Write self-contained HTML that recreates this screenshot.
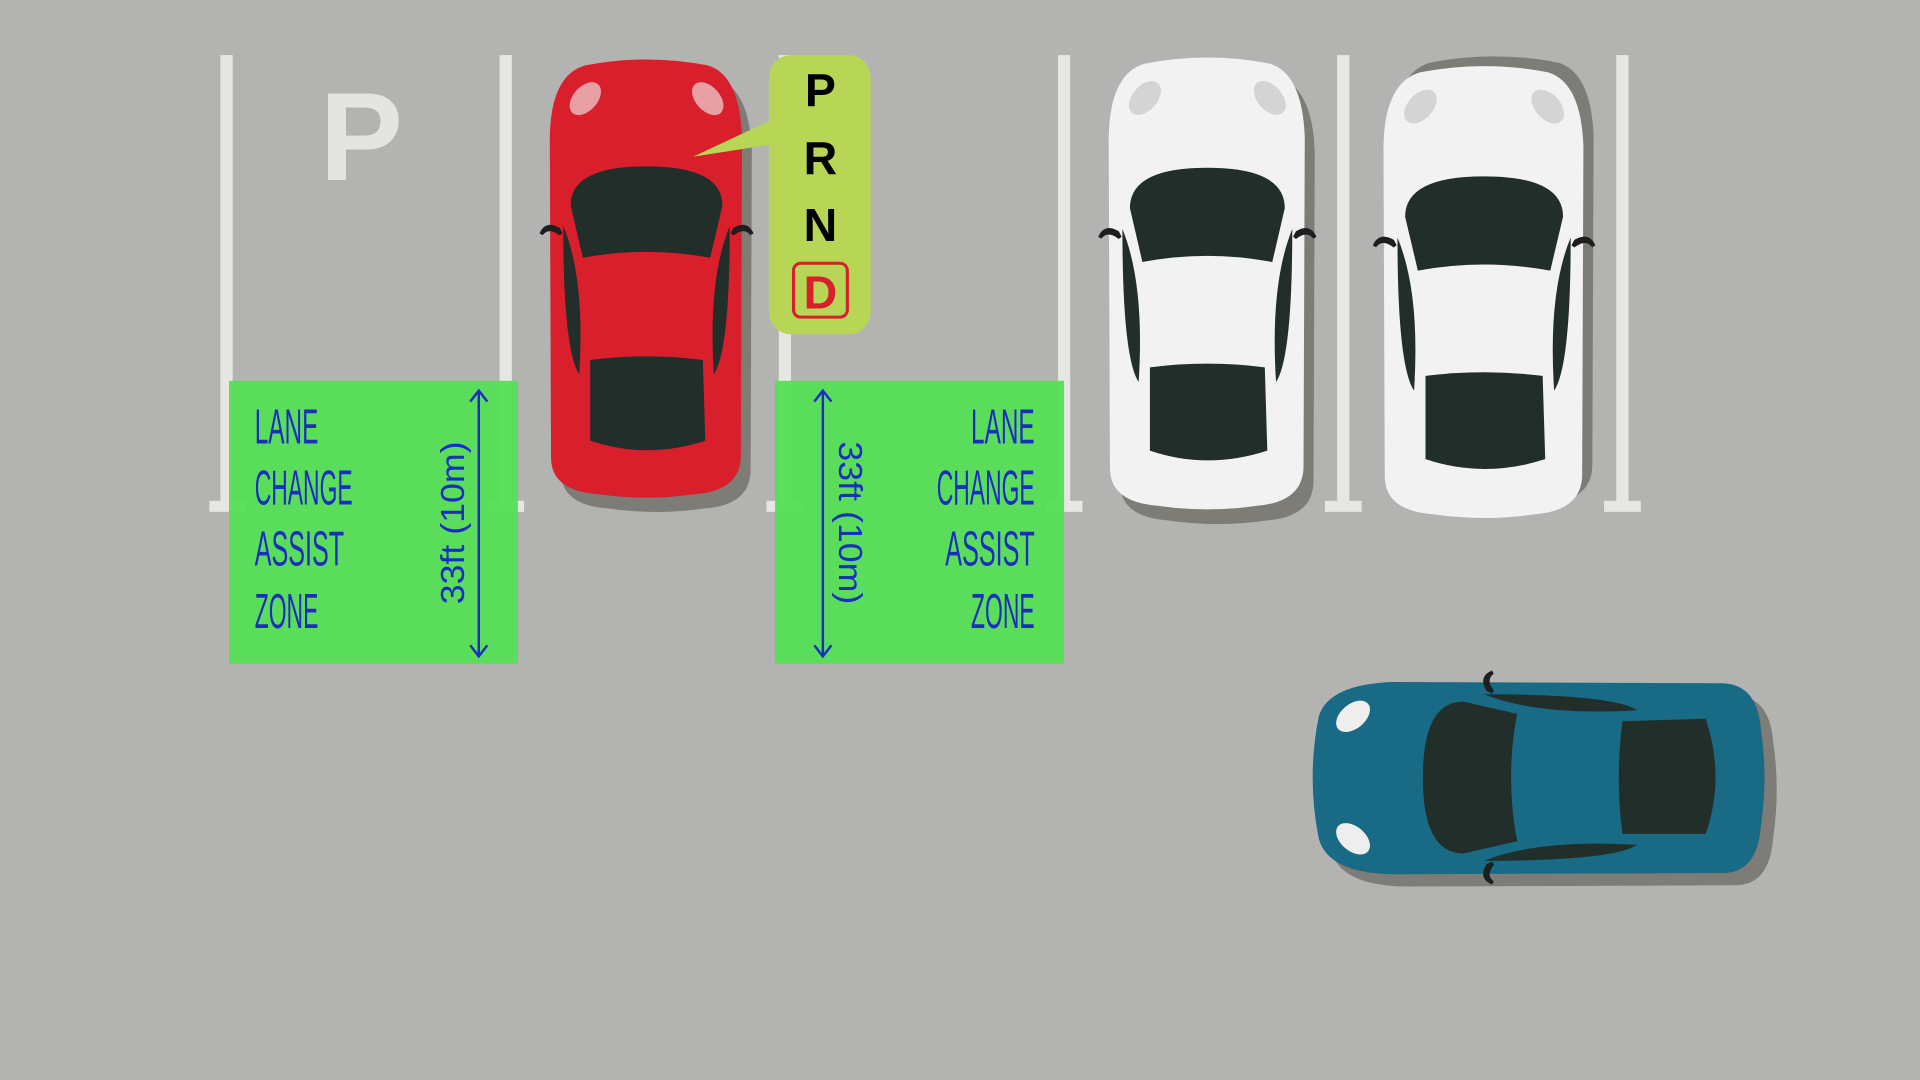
<!DOCTYPE html>
<html><head><meta charset="utf-8"><style>html,body{margin:0;padding:0;background:#b3b4b1}svg{display:block}</style></head>
<body>
<svg width="1920" height="1080" viewBox="0 0 1568 882" xmlns="http://www.w3.org/2000/svg">
<defs>
<path id="body" d="M -50,-180 Q 0,-190 50,-180 Q 76,-172 78,-120 L 77,150 Q 76,178 40,181 Q 0,187 -40,181 Q -78,178 -78,150 L -79,-120 Q -78,-172 -50,-180 Z"/>
<g id="details">
<path d="M -62,-62 Q -62,-95 0,-95 Q 62,-95 62,-62 L 52,-18 Q 0,-28 -52,-18 Z" fill="#222e29"/>
<path d="M -46,68 Q 0,62 46,68 L 48,136 Q 0,152 -46,136 Z" fill="#222e29"/>
<path d="M -68,-45 Q -50,0 -55,80 Q -68,60 -68,-45 Z" fill="#222e29"/>
<path d="M 68,-45 Q 50,0 55,80 Q 68,60 68,-45 Z" fill="#222e29"/>
<path d="M -72,-42 Q -82,-48 -86,-38 Q -80,-46 -70,-38 Z" fill="#1e1e1e" stroke="#1e1e1e" stroke-width="3"/>
<path d="M 72,-42 Q 82,-48 86,-38 Q 80,-46 70,-38 Z" fill="#1e1e1e" stroke="#1e1e1e" stroke-width="3"/>
</g>
</defs>
<rect width="1568" height="882" fill="#b3b4b1"/>
<g fill="#e6e6e4">
<rect x="180" y="45" width="10" height="370"/><rect x="171" y="409" width="30" height="9"/>
<rect x="408" y="45" width="10" height="370"/><rect x="398" y="409" width="30" height="9"/>
<rect x="636" y="45" width="10" height="370"/><rect x="626" y="409" width="30" height="9"/>
<rect x="864" y="45" width="10" height="370"/><rect x="854" y="409" width="30" height="9"/>
<rect x="1092" y="45" width="10" height="370"/><rect x="1082" y="409" width="30" height="9"/>
<rect x="1320" y="45" width="10" height="370"/><rect x="1310" y="409" width="30" height="9"/>
</g>
<text x="295" y="147" font-family="Liberation Sans" font-weight="bold" font-size="102" fill="#e4e4e2" text-anchor="middle">P</text>

<g transform="translate(528,228) scale(1,0.97)">
<use href="#body" transform="translate(8,12)" fill="#7d7c77"/>
<use href="#body" fill="#d91f2c"/>
<use href="#details"/>
<ellipse cx="-50" cy="-152" rx="16" ry="10" transform="rotate(-50 -50 -152)" fill="#e9a0a4"/>
<ellipse cx="50" cy="-152" rx="16" ry="10" transform="rotate(50 50 -152)" fill="#e9a0a4"/>
</g>
<g transform="translate(986,232) scale(1.02,1)">
<use href="#body" transform="translate(8,12)" fill="#7d7c77"/>
<use href="#body" fill="#f2f2f2"/>
<use href="#details"/>
<ellipse cx="-50" cy="-152" rx="16" ry="10" transform="rotate(-50 -50 -152)" fill="#d4d4d4"/>
<ellipse cx="50" cy="-152" rx="16" ry="10" transform="rotate(50 50 -152)" fill="#d4d4d4"/>
</g>
<g transform="translate(1212,239) scale(1.04,1)">
<use href="#body" transform="translate(8,-8)" fill="#7d7c77"/>
<use href="#body" fill="#f2f2f2"/>
<use href="#details"/>
<ellipse cx="-50" cy="-152" rx="16" ry="10" transform="rotate(-50 -50 -152)" fill="#d4d4d4"/>
<ellipse cx="50" cy="-152" rx="16" ry="10" transform="rotate(50 50 -152)" fill="#d4d4d4"/>
</g>
<g transform="translate(1257,635) rotate(-90)">
<use href="#body" transform="translate(-10,10)" fill="#7d7c77"/>
<use href="#body" fill="#186a85"/>
<use href="#details"/>
<ellipse cx="-50" cy="-152" rx="16" ry="10" transform="rotate(-50 -50 -152)" fill="#eeeeee"/>
<ellipse cx="50" cy="-152" rx="16" ry="10" transform="rotate(50 50 -152)" fill="#eeeeee"/>
</g>

<path d="M 566,128 L 630,98 L 630,118 Z" fill="#b8d656"/>
<rect x="628" y="45" width="83" height="228" rx="18" fill="#b8d656"/>
<g font-family="Liberation Sans" font-weight="bold" font-size="38" text-anchor="middle">
<text x="670" y="87" fill="#000">P</text>
<text x="670" y="142" fill="#000">R</text>
<text x="670" y="197" fill="#000">N</text>
<rect x="648" y="215" width="44" height="44" rx="6" fill="none" stroke="#d81f2c" stroke-width="2.5"/>
<text x="670" y="252" fill="#d81f2c">D</text>
</g>

<rect x="187" y="311" width="236" height="231" fill="#55df55" opacity="0.95"/>
<rect x="633" y="311" width="236" height="231" fill="#55df55" opacity="0.95"/>
<g font-family="Liberation Sans Narrow, Liberation Sans" font-size="40" fill="#1a2fc0">
<text x="208" y="362" textLength="52" lengthAdjust="spacingAndGlyphs">LANE</text>
<text x="208" y="412" textLength="80" lengthAdjust="spacingAndGlyphs">CHANGE</text>
<text x="208" y="462" textLength="73" lengthAdjust="spacingAndGlyphs">ASSIST</text>
<text x="208" y="513" textLength="52" lengthAdjust="spacingAndGlyphs">ZONE</text>
<text x="845" y="362" textLength="52" lengthAdjust="spacingAndGlyphs" text-anchor="end">LANE</text>
<text x="845" y="412" textLength="80" lengthAdjust="spacingAndGlyphs" text-anchor="end">CHANGE</text>
<text x="845" y="462" textLength="73" lengthAdjust="spacingAndGlyphs" text-anchor="end">ASSIST</text>
<text x="845" y="513" textLength="52" lengthAdjust="spacingAndGlyphs" text-anchor="end">ZONE</text>
</g>
<g stroke="#1a2fc0" stroke-width="2" fill="none">
<line x1="391" y1="319" x2="391" y2="536"/>
<polyline points="384,328 391,319 398,328"/><polyline points="384,527 391,536 398,527"/>
<line x1="672" y1="319" x2="672" y2="536"/>
<polyline points="665,328 672,319 679,328"/><polyline points="665,527 672,536 679,527"/>
</g>
<g font-family="Liberation Sans" font-size="27" fill="#1a2fc0" text-anchor="middle">
<text transform="translate(379,427) rotate(-90)" textLength="133" lengthAdjust="spacingAndGlyphs">33ft (10m)</text>
<text transform="translate(685,427) rotate(90)" textLength="133" lengthAdjust="spacingAndGlyphs">33ft (10m)</text>
</g>
</svg>
</body></html>
